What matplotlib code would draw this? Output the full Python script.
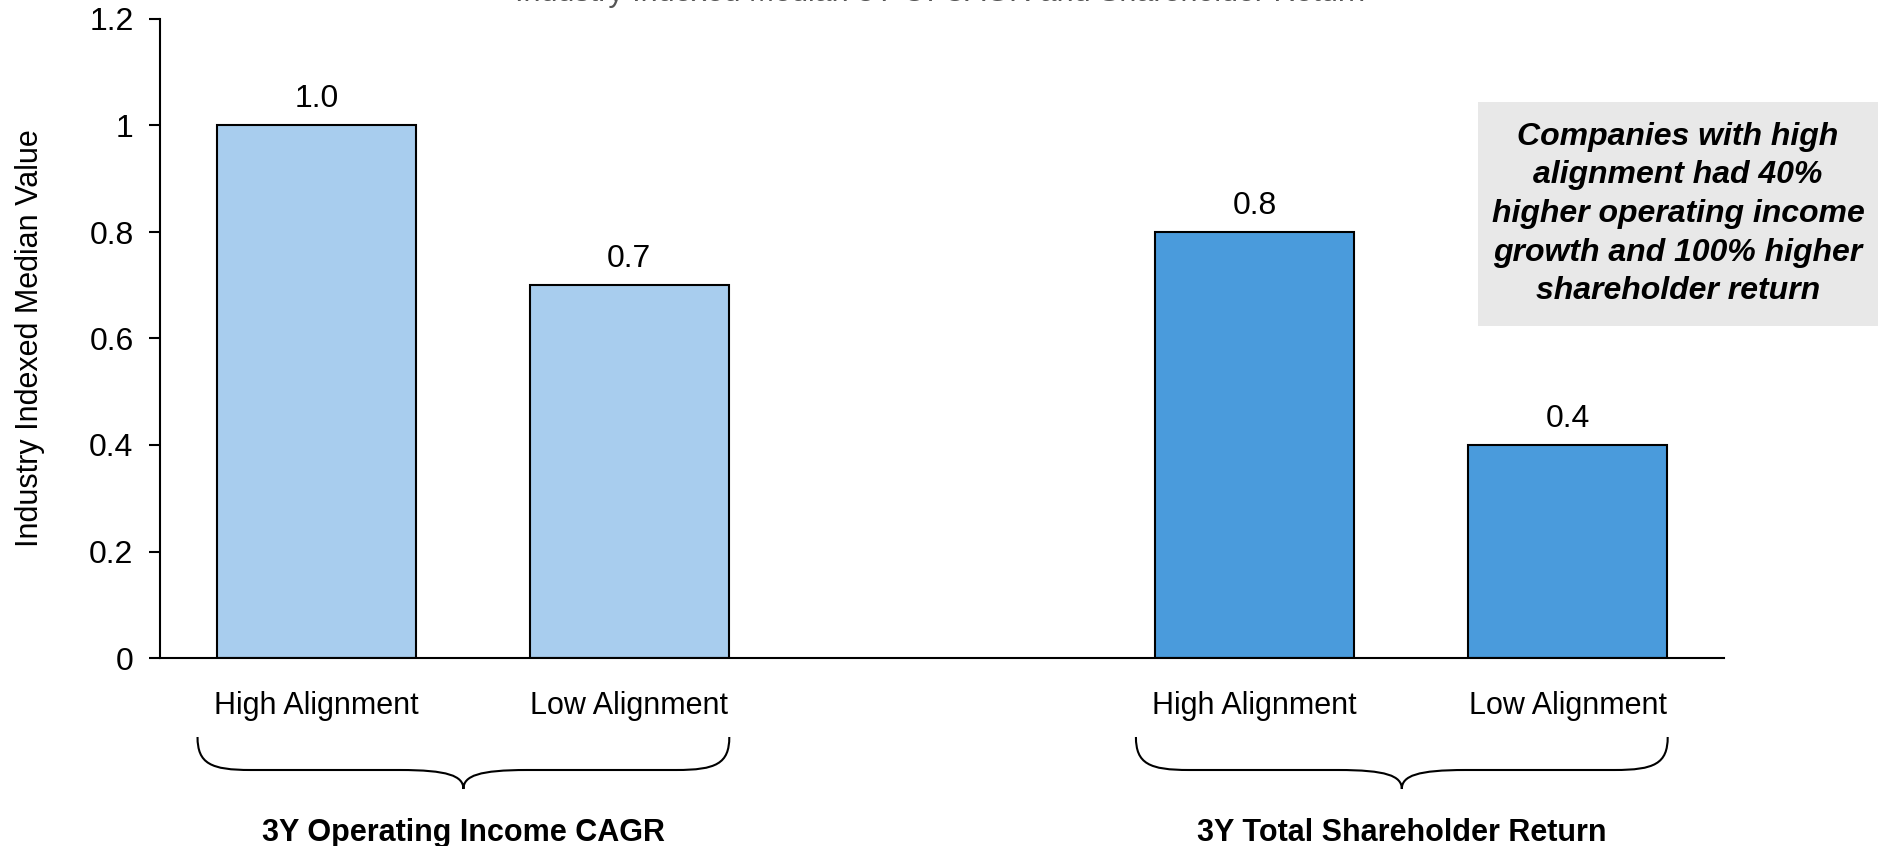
import numpy as np
import matplotlib.pyplot as plt
from matplotlib.path import Path
from matplotlib.patches import PathPatch, Rectangle
from matplotlib.transforms import blended_transform_factory

plt.rcParams['font.family'] = ['Liberation Sans', 'DejaVu Sans']

# data
groups = ["3Y Operating Income CAGR", "3Y Total Shareholder Return"]
bar_labels = ["High Alignment", "Low Alignment", "High Alignment", "Low Alignment"]
values = [1.0, 0.7, 0.8, 0.4]
positions = [0, 1, 3, 4]
group_of_bar = [0, 0, 1, 1]
group_colors = ["#A8CDEE", "#4A9BDC"]
y_ticks = [0, 0.2, 0.4, 0.6, 0.8, 1.0, 1.2]
y_tick_labels = ["0", "0.2", "0.4", "0.6", "0.8", "1", "1.2"]
title = "Industry Indexed Median 3Y OI CAGR and Shareholder Return"
callout = ("Companies with high\nalignment had 40%\nhigher operating income\n"
           "growth and 100% higher\nshareholder return")

fig = plt.figure(figsize=(18.81, 8.46), dpi=100)
ax = fig.add_axes([160 / 1881, 1 - 658 / 846, (1724 - 160) / 1881, (658 - 19) / 846])

colors = [group_colors[g] for g in group_of_bar]
bars = ax.bar(positions, values, width=0.635, color=colors, edgecolor="black", linewidth=1.5, zorder=2)

for x, v in zip(positions, values):
    ax.annotate(f"{v:.1f}", (x, v), xytext=(0, 19), textcoords="offset points",
                ha="center", va="center", fontsize=23)

ax.set_xlim(-0.5, 4.5)
ax.set_ylim(0, 1.2)
ax.set_yticks(y_ticks)
ax.set_yticklabels(y_tick_labels, fontsize=23)
ax.set_xticks(positions)
ax.set_xticklabels(bar_labels, fontsize=22)
ax.tick_params(axis="x", length=0, pad=24)
ax.tick_params(axis="y", length=8, width=1.5, pad=11)
for side in ["top", "right"]:
    ax.spines[side].set_visible(False)
for side in ["left", "bottom"]:
    ax.spines[side].set_linewidth(1.5)
ax.set_ylabel("Industry Indexed Median Value", fontsize=22, labelpad=32)


def brace(ax, xc, half, y_top, y_mid, y_tip):
    """Curly brace under the axis: x in data units, y in axes units."""
    trans = blended_transform_factory(ax.transData, ax.transAxes)
    xl, xr = xc - half, xc + half
    c = 0.17  # curl width in data units
    d = y_mid - y_tip
    verts = [
        (xl, y_top),
        (xl, y_mid + 0.01), (xl + c * 0.25, y_mid), (xl + c, y_mid),
        (xc - c * 1.2, y_mid),
        (xc - c * 0.3, y_mid), (xc, y_mid - d * 0.3), (xc, y_tip),
        (xc, y_mid - d * 0.3), (xc + c * 0.3, y_mid), (xc + c * 1.2, y_mid),
        (xr - c, y_mid),
        (xr - c * 0.25, y_mid), (xr, y_mid + 0.01), (xr, y_top),
    ]
    codes = [Path.MOVETO,
             Path.CURVE4, Path.CURVE4, Path.CURVE4,
             Path.LINETO,
             Path.CURVE4, Path.CURVE4, Path.CURVE4,
             Path.CURVE4, Path.CURVE4, Path.CURVE4,
             Path.LINETO,
             Path.CURVE4, Path.CURVE4, Path.CURVE4]
    ax.add_patch(PathPatch(Path(verts, codes), transform=trans, fill=False,
                           edgecolor="black", linewidth=1.5, clip_on=False))


ax_h = 658 - 19
for gi, name in enumerate(groups):
    xs = [p for p, g in zip(positions, group_of_bar) if g == gi]
    xc = np.mean(xs) - 0.03
    brace(ax, xc, 0.85, -(737 - 658) / ax_h, -(770 - 658) / ax_h, -(789 - 658) / ax_h)
    ax.text(xc, -(833 - 658) / ax_h, name, transform=blended_transform_factory(ax.transData, ax.transAxes),
            ha="center", va="center", fontsize=22, fontweight="bold")

# title sits above the canvas, only its lowest strokes show
fig.text(0.5, 1 - 8 / 846, title, ha="center", va="bottom", fontsize=22, color="#555555")

# callout box
fig.patches.append(Rectangle((1478 / 1881, 1 - 326 / 846), 400 / 1881, 224 / 846,
                             transform=fig.transFigure, facecolor="#E8E8E8", edgecolor="none"))
fig.text(1678 / 1881, 1 - 214 / 846, callout, ha="center", va="center", fontsize=23,
         fontweight="bold", fontstyle="italic", linespacing=1.38)

fig.savefig("out.png", dpi=100)
